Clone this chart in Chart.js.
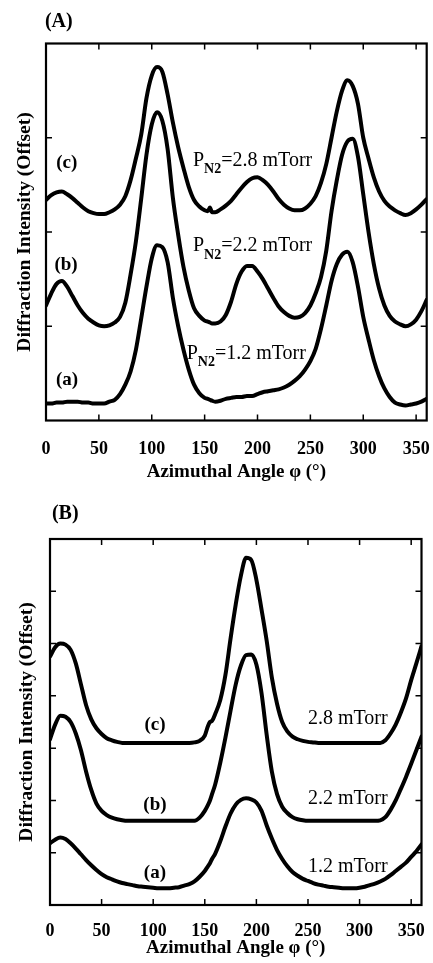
<!DOCTYPE html>
<html>
<head>
<meta charset="utf-8">
<script src="https://cdn.jsdelivr.net/npm/chart.js@4.4.0/dist/chart.umd.min.js"></script>
<style>
  html, body { margin: 0; padding: 0; background: #fff; }
  body { width: 433px; height: 963px; position: relative; overflow: hidden; }
  canvas { position: absolute; left: 0; }
  #chartA { top: 0; }
  #chartB { top: 485px; }
</style>
</head>
<body>
<canvas id="chartA" width="433" height="485"></canvas>
<canvas id="chartB" width="433" height="478"></canvas>
<script>
// azimuthal angle (deg), shared by all six scans
const angles = [0, 5, 10, 15, 20, 25, 30, 35, 40, 45, 50, 55, 60, 65, 70, 75, 80, 85, 90, 95,
  100, 105, 110, 115, 120, 125, 130, 135, 140, 145, 150, 153, 155, 157, 160, 165, 170, 175, 180, 185,
  190, 195, 200, 205, 210, 215, 220, 225, 230, 235, 240, 245, 250, 255, 260, 265, 270, 275, 280, 285,
  290, 295, 300, 305, 310, 315, 320, 325, 330, 335, 340, 345, 350, 355, 360];

// panel (A) - offset intensities
const scanA_c = [2.34, 2.39, 2.42, 2.43, 2.40, 2.36, 2.31, 2.26, 2.22, 2.20, 2.19, 2.19, 2.21, 2.24, 2.29, 2.38, 2.55, 2.78, 3.03, 3.42,
  3.66, 3.75, 3.70, 3.46, 3.16, 2.90, 2.68, 2.48, 2.34, 2.27, 2.23, 2.22, 2.26, 2.21, 2.21, 2.24, 2.28, 2.33, 2.40, 2.47,
  2.53, 2.57, 2.58, 2.55, 2.50, 2.43, 2.35, 2.29, 2.25, 2.23, 2.23, 2.25, 2.30, 2.38, 2.52, 2.72, 3.00, 3.28, 3.50, 3.61,
  3.55, 3.36, 3.00, 2.78, 2.58, 2.43, 2.33, 2.27, 2.23, 2.20, 2.18, 2.20, 2.24, 2.29, 2.35];
const scanA_b = [1.22, 1.35, 1.45, 1.48, 1.42, 1.32, 1.22, 1.14, 1.08, 1.04, 1.01, 1.00, 1.01, 1.04, 1.10, 1.25, 1.55, 1.90, 2.35, 2.82,
  3.14, 3.27, 3.18, 2.88, 2.36, 1.97, 1.63, 1.38, 1.19, 1.11, 1.06, 1.05, 1.04, 1.03, 1.03, 1.05, 1.12, 1.26, 1.45, 1.58,
  1.64, 1.64, 1.58, 1.50, 1.40, 1.30, 1.21, 1.15, 1.11, 1.09, 1.10, 1.14, 1.22, 1.35, 1.52, 1.80, 2.22, 2.55, 2.82, 2.96,
  2.99, 2.80, 2.40, 2.00, 1.66, 1.40, 1.22, 1.11, 1.05, 1.02, 1.00, 1.02, 1.07, 1.16, 1.28];
const scanA_a = [0.18, 0.18, 0.19, 0.19, 0.20, 0.20, 0.20, 0.19, 0.19, 0.18, 0.18, 0.18, 0.20, 0.22, 0.28, 0.38, 0.52, 0.75, 1.08, 1.42,
  1.72, 1.86, 1.84, 1.68, 1.30, 1.00, 0.75, 0.54, 0.38, 0.29, 0.24, 0.23, 0.22, 0.21, 0.20, 0.21, 0.23, 0.24, 0.25, 0.25,
  0.26, 0.26, 0.28, 0.30, 0.31, 0.32, 0.33, 0.35, 0.38, 0.42, 0.47, 0.54, 0.63, 0.76, 0.97, 1.22, 1.48, 1.66, 1.76, 1.79,
  1.68, 1.42, 1.10, 0.86, 0.64, 0.47, 0.34, 0.25, 0.19, 0.17, 0.16, 0.17, 0.18, 0.20, 0.23];

// panel (B)
const scanB_c = [4.75, 4.93, 5.00, 4.98, 4.88, 4.62, 4.22, 3.82, 3.55, 3.38, 3.27, 3.19, 3.15, 3.12, 3.10, 3.10, 3.10, 3.10, 3.10, 3.10,
  3.10, 3.10, 3.10, 3.10, 3.10, 3.10, 3.10, 3.10, 3.11, 3.14, 3.24, 3.42, 3.50, 3.52, 3.65, 3.92, 4.40, 5.10, 5.75, 6.30,
  6.64, 6.60, 6.22, 5.65, 5.05, 4.35, 3.85, 3.50, 3.32, 3.22, 3.17, 3.14, 3.12, 3.11, 3.10, 3.10, 3.10, 3.10, 3.10, 3.10,
  3.10, 3.10, 3.10, 3.10, 3.10, 3.10, 3.10, 3.15, 3.28, 3.45, 3.68, 3.95, 4.30, 4.62, 4.95];
const scanB_b = [3.17, 3.45, 3.62, 3.60, 3.50, 3.28, 2.96, 2.55, 2.20, 1.94, 1.80, 1.72, 1.67, 1.64, 1.62, 1.61, 1.61, 1.61, 1.61, 1.61,
  1.61, 1.61, 1.61, 1.61, 1.61, 1.61, 1.61, 1.61, 1.61, 1.67, 1.80, 1.91, 2.00, 2.12, 2.30, 2.72, 3.20, 3.72, 4.22, 4.58,
  4.78, 4.79, 4.60, 4.05, 3.25, 2.55, 2.12, 1.88, 1.76, 1.68, 1.64, 1.62, 1.61, 1.61, 1.61, 1.61, 1.61, 1.61, 1.61, 1.61,
  1.61, 1.61, 1.61, 1.61, 1.61, 1.61, 1.62, 1.68, 1.82, 2.00, 2.22, 2.45, 2.70, 2.96, 3.22];
const scanB_a = [1.18, 1.25, 1.29, 1.26, 1.18, 1.08, 0.97, 0.86, 0.76, 0.67, 0.59, 0.53, 0.49, 0.45, 0.42, 0.40, 0.38, 0.36, 0.35, 0.34,
  0.33, 0.32, 0.32, 0.32, 0.33, 0.34, 0.37, 0.40, 0.45, 0.54, 0.65, 0.74, 0.80, 0.88, 0.98, 1.22, 1.50, 1.75, 1.92, 2.01,
  2.04, 2.02, 1.96, 1.80, 1.52, 1.27, 1.05, 0.88, 0.74, 0.63, 0.56, 0.50, 0.46, 0.42, 0.39, 0.37, 0.35, 0.34, 0.33, 0.32,
  0.32, 0.32, 0.33, 0.35, 0.38, 0.41, 0.45, 0.50, 0.57, 0.65, 0.73, 0.81, 0.92, 1.03, 1.16];

const xTickValues = [0, 50, 100, 150, 200, 250, 300, 350];
const serif = "'Liberation Serif', 'Times New Roman', serif";

// draws the box, inward tick marks and the text labels inside the plot
const framePlugin = {
  id: 'frame',
  afterDraw(chart, args, opts) {
    const {ctx, chartArea: a, scales: {x, y}} = chart;
    ctx.save();
    ctx.strokeStyle = '#000';
    ctx.lineWidth = 1.5;
    ctx.beginPath();
    x.ticks.forEach((t) => {
      if (t.value <= x.min || t.value >= x.max) return;
      const px = x.getPixelForValue(t.value);
      ctx.moveTo(px, a.bottom); ctx.lineTo(px, a.bottom - 6);
      ctx.moveTo(px, a.top); ctx.lineTo(px, a.top + 6);
    });
    y.ticks.forEach((t) => {
      if (t.value <= y.min || t.value >= y.max) return;
      const py = y.getPixelForValue(t.value);
      ctx.moveTo(a.left, py); ctx.lineTo(a.left + 6, py);
      ctx.moveTo(a.right, py); ctx.lineTo(a.right - 6, py);
    });
    ctx.stroke();
    ctx.lineWidth = 2.2;
    ctx.strokeRect(a.left, a.top, a.right - a.left, a.bottom - a.top);

    ctx.fillStyle = '#000';
    ctx.textBaseline = 'middle';
    opts.notes.forEach((n) => {
      let px = x.getPixelForValue(n.x);
      const py = y.getPixelForValue(n.y);
      ctx.textAlign = n.align || 'left';
      if (n.sub) {
        // P with subscript N2
        ctx.textAlign = 'left';
        ctx.font = `20px ${serif}`;
        ctx.fillText('P', px, py);
        px += ctx.measureText('P').width;
        ctx.font = `bold 14px ${serif}`;
        ctx.fillText(n.sub, px, py + 9);
        px += ctx.measureText(n.sub).width;
        ctx.font = `20px ${serif}`;
        ctx.fillText(n.text, px, py);
      } else {
        ctx.font = `${n.bold ? 'bold ' : ''}${n.size || 20}px ${serif}`;
        ctx.fillText(n.text, px, py);
      }
    });
    ctx.restore();
  }
};

function makeChart(id, p) {
  const series = p.series.map((s) => ({
    data: angles.map((a, i) => ({x: a, y: s[i]})),
    borderColor: '#000',
    borderWidth: 4,
    pointRadius: 0,
    cubicInterpolationMode: 'monotone',
    borderJoinStyle: 'round',
    borderCapStyle: 'round',
    fill: false
  }));
  return new Chart(document.getElementById(id), {
    type: 'line',
    data: {datasets: series},
    options: {
      responsive: false,
      animation: false,
      events: [],
      layout: {padding: {top: p.padTop, right: p.padRight, bottom: 0, left: 0}},
      plugins: {
        legend: {display: false},
        tooltip: {enabled: false},
        frame: {notes: p.notes}
      },
      scales: {
        x: {
          type: 'linear', min: 0, max: 360,
          grid: {display: false}, border: {display: false},
          ticks: {
            stepSize: 50, padding: p.tickPad, color: '#000', maxRotation: 0, autoSkip: false,
            font: {family: serif, size: 18, weight: 'bold'}
          },
          afterBuildTicks: (s) => { s.ticks = xTickValues.map((v) => ({value: v})); },
          title: {
            display: true, text: 'Azimuthal Angle \u03c6 (\u00b0)', color: '#000',
            font: {family: serif, size: 19, weight: 'bold'},
            padding: {top: 0, bottom: p.xTitlePad}
          },
          afterFit: (s) => { s.height = p.xHeight; s.paddingLeft = 0; s.paddingRight = 0; }
        },
        y: {
          min: 0, max: p.yMax,
          grid: {display: false}, border: {display: false},
          ticks: {display: false, stepSize: 1},
          title: {
            display: true, text: 'Diffraction Intensity (Offset)', color: '#000',
            font: {family: serif, size: 19.5, weight: 'bold'},
            padding: {top: p.yTitlePad, bottom: 0}
          },
          afterFit: (s) => { s.width = p.yWidth; s.paddingTop = 0; s.paddingBottom = 0; }
        }
      }
    },
    plugins: [framePlugin]
  });
}

makeChart('chartA', {
  series: [scanA_c, scanA_b, scanA_a],
  yMax: 4, padTop: 43.5, padRight: 6.3, xHeight: 64.5, tickPad: 10.4, xTitlePad: 1.9,
  yWidth: 46, yTitlePad: 13.3,
  notes: [
    {x: -1, y: 4.23, text: '(A)', bold: true, size: 20},
    {x: 19.6, y: 2.73, text: '(c)', bold: true, align: 'center', size: 19},
    {x: 18.9, y: 1.65, text: '(b)', bold: true, align: 'center', size: 19},
    {x: 19.9, y: 0.43, text: '(a)', bold: true, align: 'center', size: 19},
    {x: 139, y: 2.76, sub: 'N2', text: '=2.8 mTorr'},
    {x: 139, y: 1.85, sub: 'N2', text: '=2.2 mTorr'},
    {x: 133, y: 0.71, sub: 'N2', text: '=1.2 mTorr'}
  ]
});

makeChart('chartB', {
  series: [scanB_c, scanB_b, scanB_a],
  yMax: 7, padTop: 54, padRight: 11.5, xHeight: 58, tickPad: 7.5, xTitlePad: 3.3,
  yWidth: 50, yTitlePad: 15,
  notes: [
    {x: 1.9, y: 7.49, text: '(B)', bold: true, size: 20},
    {x: 101.7, y: 3.44, text: '(c)', bold: true, align: 'center', size: 19},
    {x: 101.7, y: 1.91, text: '(b)', bold: true, align: 'center', size: 19},
    {x: 101.7, y: 0.61, text: '(a)', bold: true, align: 'center', size: 19},
    {x: 250, y: 3.57, text: '2.8 mTorr'},
    {x: 250, y: 2.04, text: '2.2 mTorr'},
    {x: 250, y: 0.73, text: '1.2 mTorr'}
  ]
});
</script>
</body>
</html>
